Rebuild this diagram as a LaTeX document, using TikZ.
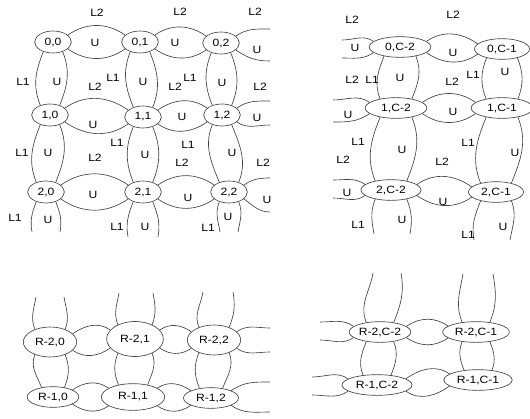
\documentclass[tikz,border=0pt]{standalone}
\usepackage{fontspec}
\setmainfont[FakeStretch=1.15]{Liberation Sans}
\usepackage{tikz}
\usetikzlibrary{shapes.geometric}

%% lens between two nodes side by side: [attach angle]{left}{right}
\newcommand{\hlens}[3][25]{%
  \pgfmathtruncatemacro\hA{180-#1}%
  \draw[link] (#2.#1) to[out=35,in=145] (#3.\hA)
              (#2.-#1) to[out=-35,in=-145] (#3.-\hA);}
%% lens between two nodes one above the other: [angle from vertical]{upper}{lower}
\newcommand{\vlens}[3][45]{%
  \pgfmathtruncatemacro\vA{90+#1}\pgfmathtruncatemacro\vB{90-#1}%
  \draw[link] (#2.-\vA) to[out=-112,in=112] (#3.\vA)
              (#2.-\vB) to[out=-68,in=68] (#3.\vB);}
%% cut lenses with a free end at a coordinate: [angle]{node/coord}{coord/node}{half gap}
\newcommand{\hcutR}[4][25]{%
  \draw[link] (#2.#1) to[out=35,in=180] ([shift={(0,-#4)}]#3)
              (#2.-#1) to[out=-35,in=180] ([shift={(0,#4)}]#3);}
\newcommand{\hcutL}[4][25]{%
  \pgfmathtruncatemacro\hA{180-#1}%
  \draw[link] ([shift={(0,-#4)}]#2) to[out=0,in=145] (#3.\hA)
              ([shift={(0,#4)}]#2) to[out=0,in=-145] (#3.-\hA);}
\newcommand{\vcutD}[4][45]{%
  \pgfmathtruncatemacro\vA{90+#1}\pgfmathtruncatemacro\vB{90-#1}%
  \draw[link] (#2.-\vA) to[out=-112,in=100] ([shift={(-#4,0)}]#3)
              (#2.-\vB) to[out=-68,in=80] ([shift={(#4,0)}]#3);}
\newcommand{\vcutU}[4][45]{%
  \pgfmathtruncatemacro\vA{90+#1}\pgfmathtruncatemacro\vB{90-#1}%
  \draw[link] ([shift={(-#4,0)}]#2) to[out=-100,in=112] (#3.\vA)
              ([shift={(#4,0)}]#2) to[out=-80,in=68] (#3.\vB);}

\begin{document}
\begin{tikzpicture}[x=0.03cm, y=-0.03cm,
  link/.style={draw=black!75, line width=0.55pt},
  cell/.style={draw=black!75, line width=0.55pt, ellipse, inner sep=0.5pt, font=\fontsize{9}{10}\selectfont, minimum width=1.1cm, minimum height=0.66cm},
  wide/.style={cell, minimum width=1.85cm, minimum height=0.62cm},
  lbl/.style={inner sep=0pt, font=\fontsize{9}{10}\selectfont}
]
  \useasboundingbox (0,0) rectangle (530,419);

  %% Top-left block: rows 0..2, columns 0..2
  \node[cell] (n00) at (53,42) {0,0};
  \node[cell] (n01) at (140,42) {0,1};
  \node[cell] (n02) at (221,43) {0,2};
  \node[cell] (n10) at (50,115) {1,0};
  \node[cell] (n11) at (143,117) {1,1};
  \node[cell] (n12) at (222,115) {1,2};
  \node[cell] (n20) at (46,192) {2,0};
  \node[cell] (n21) at (143,192) {2,1};
  \node[cell] (n22) at (229,192) {2,2};
  \coordinate (nr0) at (270,45);
  \coordinate (nr1) at (270,113);
  \coordinate (nr2) at (270,195);
  \coordinate (nb0) at (46,232);
  \coordinate (nb1) at (143,237);
  \coordinate (nb2) at (229,232);

  \hlens{n00}{n01} \hlens{n01}{n02} \hcutR{n02}{nr0}{16}
  \hlens{n10}{n11} \hlens{n11}{n12} \hcutR{n12}{nr1}{12}
  \hlens{n20}{n21} \hlens{n21}{n22} \hcutR{n22}{nr2}{17}
  \vlens{n00}{n10} \vlens{n10}{n20} \vcutD{n20}{nb0}{14}
  \vlens{n01}{n11} \vlens{n11}{n21} \vcutD{n21}{nb1}{15}
  \vlens{n02}{n12} \vlens{n12}{n22} \vcutD{n22}{nb2}{9}

  %% Top-right block: rows 0..2, columns C-2 and C-1
  \node[wide] (m00) at (400,47) {0,C-2};
  \node[wide, minimum width=1.65cm] (m01) at (502,49) {0,C-1};
  \node[wide] (m10) at (396,108) {1,C-2};
  \node[wide] (m11) at (502,108) {1,C-1};
  \node[wide, minimum width=1.8cm] (m20) at (391,190) {2,C-2};
  \node[wide, minimum width=1.65cm] (m21) at (496,192) {2,C-1};
  \coordinate (ml0) at (342,49);
  \coordinate (ml1) at (333,111);
  \coordinate (ml2) at (333,189);
  \coordinate (mb0) at (392,234);
  \coordinate (mb1) at (492,240);

  \hcutL[12]{ml0}{m00}{9}  \hlens[12]{m00}{m01}
  \hcutL[12]{ml1}{m10}{11} \hlens[12]{m10}{m11}
  \hcutL[12]{ml2}{m20}{9}  \hlens[12]{m20}{m21}
  \vlens[60]{m00}{m10} \vlens[60]{m10}{m20} \vcutD[60]{m20}{mb0}{18}
  \vlens[60]{m01}{m11} \vlens[60]{m11}{m21} \vcutD[60]{m21}{mb1}{18}

  %% Bottom-left block: rows R-2 and R-1, columns 0..2
  \node[cell, minimum width=1.6cm, minimum height=0.9cm] (p00) at (50,342) {R-2,0};
  \node[cell, minimum width=1.7cm, minimum height=1.05cm] (p01) at (135,339) {R-2,1};
  \node[cell, minimum width=1.6cm, minimum height=0.9cm] (p02) at (214,340) {R-2,2};
  \node[cell, minimum width=1.55cm, minimum height=0.62cm] (p10) at (53,397) {R-1,0};
  \node[cell, minimum width=1.9cm, minimum height=0.8cm] (p11) at (133,397) {R-1,1};
  \node[cell, minimum width=1.65cm, minimum height=0.62cm] (p12) at (211,398) {R-1,2};
  \coordinate (pt0) at (50,297);
  \coordinate (pt1) at (136,293);
  \coordinate (pt2) at (218,292);
  \coordinate (pr0) at (270,340);
  \coordinate (pr1) at (270,397);

  \vcutU[50]{pt0}{p00}{14} \vcutU[50]{pt1}{p01}{17} \vcutU[50]{pt2}{p02}{15}
  \hlens[20]{p00}{p01} \hlens[20]{p01}{p02} \hcutR[20]{p02}{pr0}{12}
  \hlens[20]{p10}{p11} \hlens[20]{p11}{p12} \hcutR[20]{p12}{pr1}{15}
  \vlens[50]{p00}{p10} \vlens[50]{p01}{p11} \vlens[50]{p02}{p12}

  %% Bottom-right block: rows R-2 and R-1, columns C-2 and C-1
  \node[wide] (q00) at (380,332) {R-2,C-2};
  \node[wide, minimum width=2.0cm] (q01) at (476,332) {R-2,C-1};
  \node[wide, minimum width=2.1cm] (q10) at (377,385) {R-1,C-2};
  \node[wide, minimum width=2.05cm] (q11) at (478,380) {R-1,C-1};
  \coordinate (qt0) at (387,273);
  \coordinate (qt1) at (478,274);
  \coordinate (ql0) at (320,331);
  \coordinate (ql1) at (312,386);

  \vcutU[55]{qt0}{q00}{14} \vcutU[55]{qt1}{q01}{15}
  \hcutL[12]{ql0}{q00}{9} \hlens[12]{q00}{q01}
  \hcutL[12]{ql1}{q10}{9} \hlens[12]{q10}{q11}
  \vlens[55]{q00}{q10} \vlens[55]{q01}{q11}

  %% Labels
  \foreach \p [count=\k] in {(95,43),(175,43),(257,50),(93,125),(182,117),(257,118),(93,195),(188,198),(267,200),
      (57,82),(143,82),(222,83),(48,153),(145,155),(232,153),(48,220),(145,227),(228,217),
      (355,48),(453,53),(348,115),(453,112),(347,193),(443,202),
      (400,78),(505,72),(402,150),(515,153),(402,220),(503,227)}
    \node[lbl] (u\k) at \p {U};
  \foreach \p [count=\k] in {(23,82),(113,78),(190,78),(22,153),(117,143),(188,145),(15,218),(117,227),(208,228),
      (372,80),(473,75),(358,142),(468,143),(358,225),(468,235)}
    \node[lbl] (la\k) at \p {L1};
  \foreach \p [count=\k] in {(97,13),(180,12),(255,12),(95,87),(175,87),(260,87),(95,158),(182,163),(263,163),
      (352,20),(453,15),(352,80),(452,82),(343,160),(442,162)}
    \node[lbl] (lb\k) at \p {L2};
\end{tikzpicture}
\end{document}
